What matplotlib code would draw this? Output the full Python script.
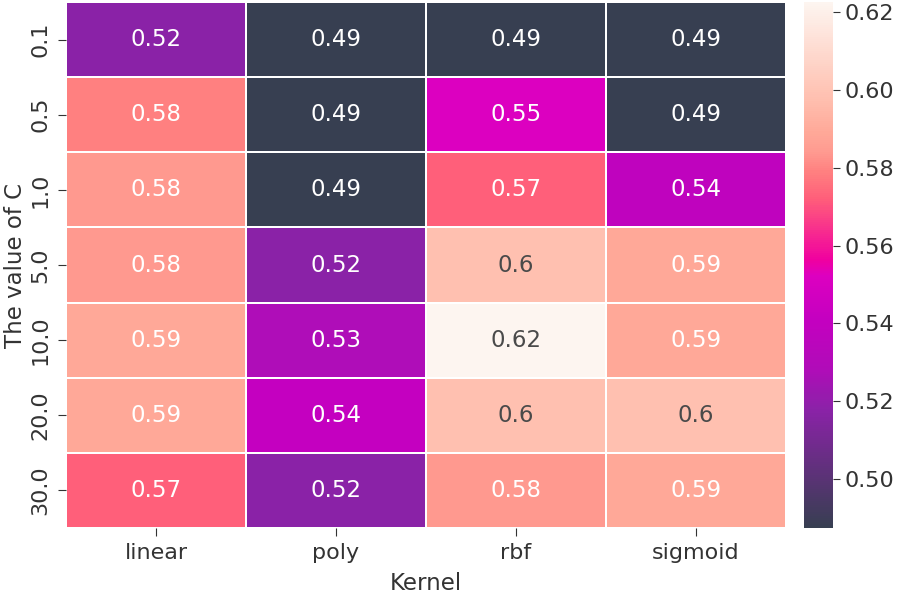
import numpy as np
import pandas as pd
import matplotlib
matplotlib.use('Agg')
import matplotlib.pyplot as plt
import seaborn as sns
from matplotlib.colors import LinearSegmentedColormap

# 不同核函数与C取值下的准确率
kernels = ['linear', 'poly', 'rbf', 'sigmoid']
c_values = ['0.1', '0.5', '1.0', '5.0', '10.0', '20.0', '30.0']
acc_linear = [0.518, 0.579, 0.584, 0.584, 0.589, 0.589, 0.572]
acc_poly = [0.488, 0.488, 0.488, 0.518, 0.528, 0.541, 0.518]
acc_rbf = [0.488, 0.552, 0.572, 0.598, 0.622, 0.598, 0.584]
acc_sigmoid = [0.488, 0.488, 0.538, 0.589, 0.589, 0.598, 0.589]

df = pd.DataFrame({'linear': acc_linear, 'poly': acc_poly,
                   'rbf': acc_rbf, 'sigmoid': acc_sigmoid}, index=c_values)

cmap = LinearSegmentedColormap.from_list('svm', [
    (0.0, '#373f51'), (0.226, '#8b22a8'), (0.30, '#b00cb8'),
    (0.396, '#c400c0'), (0.478, '#dc00c0'), (0.51, '#f000a0'),
    (0.626, '#ff5e7a'), (0.678, '#ff8080'), (0.715, '#ff9a90'),
    (0.752, '#ffa898'), (0.819, '#ffc0b0'), (1.0, '#fdf5f0')])

plt.rcParams['font.family'] = ['DejaVu Sans']
plt.rcParams['text.color'] = '#333333'
plt.rcParams['axes.labelcolor'] = '#333333'
plt.rcParams['xtick.color'] = '#333333'
plt.rcParams['ytick.color'] = '#333333'

fig = plt.figure(figsize=(8.98, 5.95), dpi=100)
ax = fig.add_axes([66 / 898, 67 / 595, 720 / 898, 526 / 595])
cax = fig.add_axes([804 / 898, 67 / 595, 29 / 898, 526 / 595])
sns.heatmap(df, ax=ax, cbar_ax=cax, cmap=cmap, vmin=0.4875, vmax=0.6225,
            annot=True, fmt='.2g', annot_kws={'fontsize': 16.5},
            linewidths=1.2, linecolor='white')
# 浅色格子用深色字
vals = df.values.flatten()
for t, v in zip(ax.texts, vals):
    t.set_color('#4a4a4a' if v >= 0.595 else 'white')
ax.set_xlabel('Kernel', fontsize=16.5, labelpad=6)
ax.set_ylabel('The value of C', fontsize=16.5, labelpad=3)
ax.tick_params(labelsize=16, length=6, pad=5)
plt.setp(ax.get_yticklabels(), rotation=90, va='center')
cax.tick_params(labelsize=16, length=5)
cax.set_yticks([0.50, 0.52, 0.54, 0.56, 0.58, 0.60, 0.62])
cax.set_yticklabels(['0.50', '0.52', '0.54', '0.56', '0.58', '0.60', '0.62'])
fig.savefig('out.png', dpi=100)
